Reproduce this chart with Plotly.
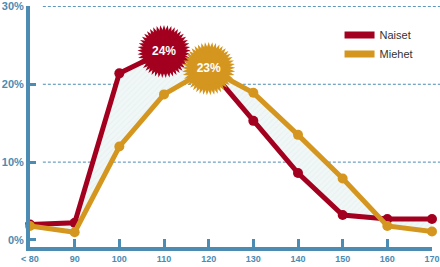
import plotly.graph_objects as go

categories = [80, 90, 100, 110, 120, 130, 140, 150, 160, 170]
tick_labels = ["< 80", "90", "100", "110", "120", "130", "140", "150", "160", "170"]
naiset = [2.0, 2.2, 21.4, 24.2, 22.1, 15.3, 8.6, 3.2, 2.7, 2.7]
miehet = [1.8, 1.0, 12.0, 18.7, 22.0, 18.9, 13.5, 7.9, 1.8, 1.1]
peak_naiset = (110, 24.2, "24%")
peak_miehet = (120, 22.0, "23%")
y_ticks = [0, 10, 20, 30]
y_tick_labels = ["0%", "10%", "20%", "30%"]

RED = "#a3001f"
ORANGE = "#d4961f"
AXIS = "#4c8bb2"
FONT = "Liberation Sans, Arial"

fig = go.Figure()

fig.add_trace(go.Scatter(
    x=categories, y=naiset, name="Naiset", mode="lines+markers",
    line=dict(color=RED, width=5), marker=dict(color=RED, size=10),
    cliponaxis=False, showlegend=False,
))
fig.add_trace(go.Scatter(
    x=categories, y=miehet, name="Miehet", mode="lines+markers",
    line=dict(color=ORANGE, width=5), marker=dict(color=ORANGE, size=10),
    fill="tonexty", fillcolor="#eef5f5",
    fillpattern=dict(shape="/", bgcolor="#f1f7f7", fgcolor="#dce9ea", size=4, solidity=0.25),
    cliponaxis=False, showlegend=False,
))

# legend entries (line only)
for name, col in [("Naiset", RED), ("Miehet", ORANGE)]:
    fig.add_trace(go.Scatter(x=[None], y=[None], name=name, mode="lines",
                             line=dict(color=col, width=7)))

angles = [0, 8, 16, 24, 32, 40, 48, 56, 64]
for (px, py, label), col in [(peak_naiset, RED), (peak_miehet, ORANGE)]:
    fig.add_trace(go.Scatter(
        x=[px] * len(angles), y=[py] * len(angles), mode="markers",
        marker=dict(symbol="star", size=38, color=col, angle=angles, line=dict(width=0)),
        showlegend=False, hoverinfo="skip", cliponaxis=False,
    ))
    fig.add_trace(go.Scatter(
        x=[px], y=[py], mode="markers+text", text=[label],
        textposition="middle center",
        textfont=dict(color="white", size=12, family=FONT, weight="bold"),
        marker=dict(symbol="circle", size=32, color=col),
        showlegend=False, hoverinfo="skip", cliponaxis=False,
    ))

for gy in y_ticks[1:]:
    fig.add_shape(type="line", xref="paper", yref="y", x0=0.032, x1=1.02, y0=gy, y1=gy,
                  line=dict(color=AXIS, width=1, dash="3px,2px"), layer="below")

fig.update_layout(
    width=440, height=267,
    margin=dict(l=30, r=8, t=6, b=20),
    paper_bgcolor="white", plot_bgcolor="white",
    showlegend=True,
    legend=dict(x=0.77, y=0.94, xanchor="left", yanchor="top", traceorder="normal",
                font=dict(size=11, color="#333333", family=FONT),
                bgcolor="rgba(0,0,0,0)", tracegroupgap=0),
    xaxis=dict(range=[80, 170], tickvals=categories, ticktext=tick_labels,
               showgrid=False, zeroline=False, showline=True, linecolor=AXIS, linewidth=4,
               ticks="inside", ticklen=8, tickwidth=3, tickcolor=AXIS,
               ticklabeloverflow="allow", automargin=False,
               tickfont=dict(size=9, color=AXIS, family=FONT, weight="bold")),
    yaxis=dict(range=[-0.9, 30.05], tickvals=y_ticks, ticktext=y_tick_labels,
               showgrid=False, zeroline=False, showline=True, linecolor=AXIS, linewidth=4,
               ticks="inside", ticklen=6, tickwidth=3, tickcolor=AXIS,
               ticklabeloverflow="allow", automargin=False, ticklabelstandoff=0,
               tickfont=dict(size=11, color=AXIS, family=FONT, weight="bold")),
)

fig.write_html("out.html")
